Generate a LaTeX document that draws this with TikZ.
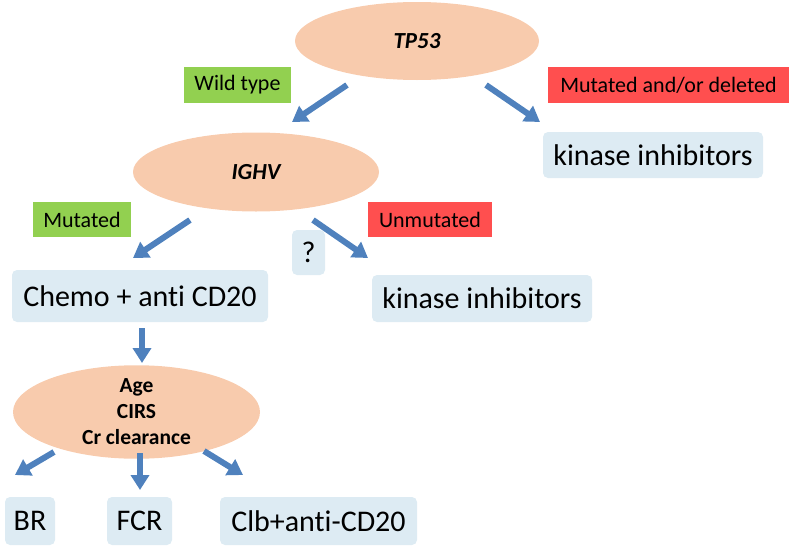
\documentclass[tikz,border=0pt]{standalone}
\usepackage{fontspec}
\setmainfont[Ligatures=CommonOff]{Carlito}
\usetikzlibrary{arrows.meta,shapes.geometric}
\definecolor{peach}{HTML}{F8CBAD}
\definecolor{boxblue}{HTML}{DDEBF3}
\definecolor{lgreen}{HTML}{92D050}
\definecolor{lred}{HTML}{FF4F4F}
\definecolor{arrowblue}{HTML}{4F81BD}
\begin{document}
\begin{tikzpicture}[x=1pt,y=-1pt,
  oval/.style={ellipse, fill=peach, inner sep=0pt, align=center},
  tbox/.style={rectangle, rounded corners=5pt, fill=boxblue, inner sep=0pt,
    font=\fontsize{30}{34}\selectfont},
  glabel/.style={rectangle, fill=lgreen, inner sep=0pt, font=\fontsize{22}{26}\selectfont},
  rlabel/.style={rectangle, fill=lred, inner sep=0pt, font=\fontsize{22}{26}\selectfont},
  arr/.style={draw=arrowblue, line width=6pt, -{Triangle[width=18pt,length=15pt]}}]
\useasboundingbox (0,0) rectangle (793,549);

% ovals
\node[oval, minimum width=244pt, minimum height=78pt, font=\fontsize{23}{27}\selectfont\bfseries\itshape] (tp53) at (417,41) {TP53};
\node[oval, minimum width=246pt, minimum height=79pt, font=\fontsize{23}{27}\selectfont\bfseries\itshape] (ighv) at (256,172) {IGHV};
\node[oval, minimum width=247pt, minimum height=78pt, font=\fontsize{21.5}{26}\selectfont\bfseries] (age) at (136.5,412) {Age\\CIRS\\Cr clearance};

% labels
\node[glabel, minimum width=107pt, minimum height=36pt] (wild) at (237.5,85) {Wild type};
\node[rlabel, minimum width=241pt, minimum height=36pt] (mutdel) at (668.5,85) {Mutated and/or deleted};
\node[glabel, minimum width=98pt, minimum height=35pt] (mutd) at (82,219.5) {Mutated};
\node[rlabel, minimum width=124pt, minimum height=35pt] (unmut) at (430,219.5) {Unmutated};

% boxes
\node[tbox, minimum width=220pt, minimum height=46pt] (kin1) at (653,155) {kinase inhibitors};
\node[tbox, minimum width=33pt, minimum height=45pt] (q) at (308.5,252.5) {?};
\node[tbox, minimum width=256pt, minimum height=52pt] (chemo) at (140,296) {Chemo + anti CD20};
\node[tbox, minimum width=220pt, minimum height=47pt] (kin2) at (482,298.5) {kinase inhibitors};
\node[tbox, minimum width=50pt, minimum height=48pt] (br) at (30,521) {BR};
\node[tbox, minimum width=65pt, minimum height=48pt] (fcr) at (139.5,521) {FCR};
\node[tbox, minimum width=197pt, minimum height=48pt] (clb) at (318.5,521) {Clb+anti-CD20};

% arrow ends
\coordinate (a1s) at (347,85);  \coordinate (a1e) at (292,122);
\coordinate (a2s) at (486,85);  \coordinate (a2e) at (540,122);
\coordinate (a3s) at (190,220); \coordinate (a3e) at (133,258);
\coordinate (a4s) at (313,220); \coordinate (a4e) at (368,258);
\coordinate (a5s) at (142,328); \coordinate (a5e) at (142,363);
\coordinate (a6s) at (54,452);  \coordinate (a6e) at (15,475);
\coordinate (a7s) at (140,453); \coordinate (a7e) at (140,490);
\coordinate (a8s) at (204,451); \coordinate (a8e) at (243,475);

\draw[arr] (a1s) -- (a1e);
\draw[arr] (a2s) -- (a2e);
\draw[arr] (a3s) -- (a3e);
\draw[arr] (a4s) -- (a4e);
\draw[arr] (a5s) -- (a5e);
\draw[arr] (a6s) -- (a6e);
\draw[arr] (a7s) -- (a7e);
\draw[arr] (a8s) -- (a8e);
\end{tikzpicture}
\end{document}
